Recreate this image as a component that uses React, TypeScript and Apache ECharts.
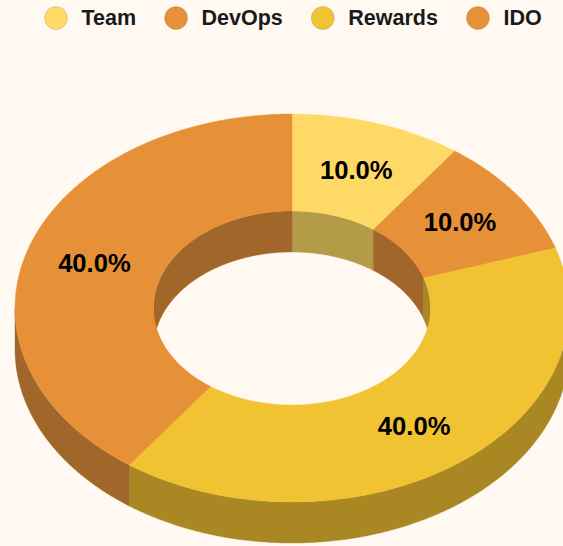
import React, { useEffect, useRef } from "react";
import * as echarts from "echarts";

const categories = ["Team", "DevOps", "Rewards", "IDO"];
const shares = [10, 10, 40, 40];
const topColors = ["#FFD966", "#E69138", "#F1C232", "#E69138"];
const wallColors = ["#B39B47", "#A1662A", "#A98823", "#A1662A"];

const WIDTH = 563;
const HEIGHT = 546;
const CX = 292;
const CY = 308;
const RX = 277;
const RY = 194;
const HOLE = 0.5;
const DEPTH = 41;
const total = shares.reduce((a, b) => a + b, 0);

// Angles are clockwise from twelve o'clock, in degrees.
const pt = (deg: number, k: number, dy = 0): number[] => {
  const t = (deg * Math.PI) / 180;
  return [CX + RX * k * Math.sin(t), CY - RY * k * Math.cos(t) + dy];
};

const arc = (from: number, to: number, k: number, dy = 0): number[][] => {
  const out: number[][] = [];
  const n = Math.max(1, Math.ceil(Math.abs(to - from) * 2));
  for (let i = 0; i <= n; i++) out.push(pt(from + ((to - from) * i) / n, k, dy));
  return out;
};

const band = (from: number, to: number, a: number[][], b: number[][]) => [...a, ...b.reverse()];

const wall = (from: number, to: number, lo: number, hi: number, k: number, fill: string) => {
  const s = Math.max(from, lo);
  const e = Math.min(to, hi);
  if (e <= s) return null;
  return {
    type: "polygon",
    z2: 1,
    shape: { points: band(s, e, arc(s, e, k), arc(s, e, k, DEPTH)) },
    style: { fill, stroke: fill, lineWidth: 0.4 },
  };
};

const makeRender = (index: number) => (_params: any, api: any) => {
  const value = api.value(0) as number;
  const before = shares.slice(0, index).reduce((a, b) => a + b, 0);
  const from = (before / total) * 360;
  const to = from + (value / total) * 360;
  const mid = (from + to) / 2;
  const [lx, ly] = pt(mid, 0.75);
  const fill = topColors[index];
  const shade = wallColors[index];
  const children: any[] = [
    wall(from, to, 90, 270, 1, shade),
    wall(from, to, 270, 360, HOLE, shade),
    wall(from, to, 0, 90, HOLE, shade),
    {
      type: "polygon",
      z2: 5,
      shape: { points: band(from, to, arc(from, to, 1), arc(from, to, HOLE)) },
      style: { fill, stroke: fill, lineWidth: 0.4 },
    },
    {
      type: "text",
      z2: 10,
      x: lx,
      y: ly,
      style: {
        text: `${((value / total) * 100).toFixed(1)}%`,
        fill: "#000000",
        font: 'bold 25.6px "Liberation Sans", Arial, sans-serif',
        textAlign: "center",
        textVerticalAlign: "middle",
      },
    },
  ].filter(Boolean);
  return { type: "group", children };
};

export default function App() {
  const ref = useRef<HTMLDivElement>(null);
  useEffect(() => {
    document.body.style.margin = "0";
    const chart = echarts.init(ref.current!, undefined, { renderer: "svg" });
    chart.setOption({
      animation: false,
      backgroundColor: "#FFF9F1",
      legend: {
        data: categories,
        left: 39,
        top: 1,
        icon: "circle",
        itemWidth: 23,
        itemHeight: 23,
        itemGap: 28,
        selectedMode: false,
        itemStyle: { borderColor: "rgba(120,120,120,0.25)", borderWidth: 1 },
        textStyle: {
          color: "#1A1A1A",
          fontFamily: '"Liberation Sans", Arial, sans-serif',
          fontWeight: "bold",
          fontSize: 21.5,
          padding: [0, 0, 0, 9],
        },
      },
      series: categories.map((name, i) => ({
        type: "custom",
        name,
        coordinateSystem: "none",
        silent: true,
        clip: false,
        itemStyle: { color: topColors[i] },
        data: [[shares[i]]],
        renderItem: makeRender(i),
      })),
    });
    return () => chart.dispose();
  }, []);
  return <div ref={ref} style={{ width: WIDTH, height: HEIGHT }} />;
}
